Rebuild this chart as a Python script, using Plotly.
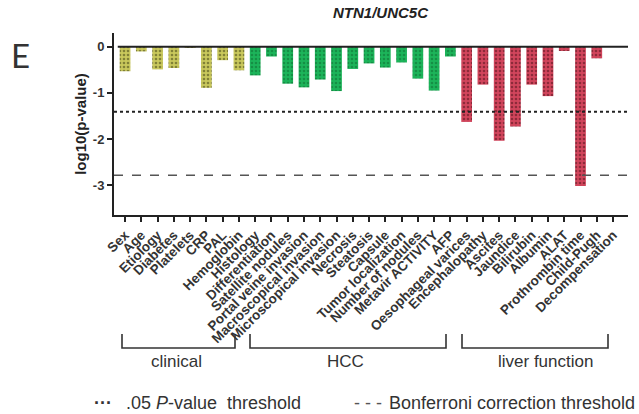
import plotly.graph_objects as go

clinical = ["Sex", "Age", "Etiology", "Diabetes", "Platelets", "CRP", "PAL", "Hemoglobin"]
clinical_vals = [-0.53, -0.10, -0.49, -0.46, -0.01, -0.89, -0.29, -0.51]

hcc = ["Histology", "Differentiation", "Satellite nodules", "Portal veine invasion",
       "Macroscopical invasion", "Microscopical invasion", "Necrosis", "Steatosis",
       "Capsule", "Tumor localization", "Number of nodules", "Metavir ACTIVITY", "AFP"]
hcc_vals = [-0.62, -0.21, -0.80, -0.88, -0.71, -0.96, -0.48, -0.36, -0.45, -0.34,
            -0.69, -0.95, -0.21]

liver = ["Oesophageal varices", "Encephalopathy", "Ascites", "Jaundice", "Bilirubin",
         "Albumin", "ALAT", "Prothrombin time", "Child-Pugh", "Decompensation"]
liver_vals = [-1.63, -0.82, -2.04, -1.73, -0.82, -1.07, -0.09, -3.02, -0.25, 0.0]

p05_threshold = -1.41
bonferroni_threshold = -2.79

categories = clinical + hcc + liver

fig = go.Figure()
groups = [
    (clinical, clinical_vals, "#c9c85c", "#3a3a10"),
    (hcc, hcc_vals, "#1cb45a", "#0d6a30"),
    (liver, liver_vals, "#d2455c", "#4a1018"),
]
for cats, vals, col, dot in groups:
    fig.add_trace(go.Bar(
        x=cats, y=vals, width=0.66,
        marker=dict(color=col, line=dict(width=0),
                    pattern=dict(shape=".", fgcolor=dot, size=4, solidity=0.35)),
        showlegend=False, hoverinfo="skip",
    ))

fig.add_shape(type="line", xref="x", yref="y", x0=-0.45, x1=30.92, y0=0, y1=0,
              line=dict(color="#222", width=2))
fig.add_shape(type="line", xref="x", yref="y", x0=-0.68, x1=30.92,
              y0=p05_threshold, y1=p05_threshold,
              line=dict(color="#222", width=2, dash="dot"))
fig.add_shape(type="line", xref="x", yref="y", x0=-0.68, x1=30.92,
              y0=bonferroni_threshold, y1=bonferroni_threshold,
              line=dict(color="#555", width=1.5, dash="dash"))

W, H = 639, 414
L, R, T, B = 114, 11, 33, 199
pw, ph = W - L - R, H - T - B

def px(x):
    return (x - L) / pw

def py(y):
    return (H - B - y) / ph

FONT = "Liberation Sans, Arial"

def text(x, y, s, size, color="#333", family=FONT, xanchor="center"):
    fig.add_annotation(xref="paper", yref="paper", x=px(x), y=py(y), text=s,
                       showarrow=False, xanchor=xanchor, yanchor="middle",
                       font=dict(family=family, size=size, color=color))

brackets = [("clinical", 122, 235, 176), ("HCC", 250, 446, 345), ("liver function", 462, 608, 545)]
for label, x0, x1, xc in brackets:
    fig.add_shape(type="path", xref="paper", yref="paper",
                  path=f"M {px(x0)} {py(334)} L {px(x0)} {py(348)} L {px(x1)} {py(348)} L {px(x1)} {py(334)}",
                  line=dict(color="#333", width=1.6))
    text(xc, 361, label, 17)

text(92, 403, "<b>···</b>", 18, xanchor="left")
text(124, 403, ".05 <i>P</i>-value  threshold", 18, xanchor="left")
text(352, 403, "- - -", 18, color="#555", xanchor="left")
text(637, 403, "Bonferroni correction threshold", 18, xanchor="right")

text(381, 13, "<b><i>NTN1/UNC5C</i></b>", 15, color="#222")
text(20, 55, "E", 33, family="Lato, Liberation Sans")

fig.update_layout(
    width=W, height=H,
    margin=dict(l=L, r=R, t=T, b=B),
    plot_bgcolor="white", paper_bgcolor="white",
    font=dict(family=FONT, color="#333"),
    xaxis=dict(
        type="category", categoryorder="array", categoryarray=categories,
        range=[-0.68, 30.92], tickangle=-45, showline=True, linecolor="#222",
        linewidth=2, ticks="outside", ticklen=5, tickwidth=1.5, tickcolor="#222",
        tickfont=dict(size=13.5, color="#333", family=FONT),
        showgrid=False, zeroline=False, automargin=False,
        tickvals=categories, ticktext=[f"<b>{c}</b>" for c in categories],
    ),
    yaxis=dict(
        range=[-3.65, 0.3], tickvals=[0, -1, -2, -3],
        ticktext=["<b>0</b>", "<b>-1</b>", "<b>-2</b>", "<b>-3</b>"],
        showline=True, linecolor="#222", linewidth=2, ticks="outside", ticklen=5,
        tickwidth=1.5, tickcolor="#222", showgrid=False, zeroline=False,
        automargin=False, tickfont=dict(size=13, color="#333"),
        title=dict(text="<b>log10(p-value)</b>", font=dict(size=15, color="#222"), standoff=3),
    ),
)

fig.write_html("out.html", config={"displayModeBar": False},
               post_script="document.body.style.margin='0';document.body.style.overflow='hidden';")
